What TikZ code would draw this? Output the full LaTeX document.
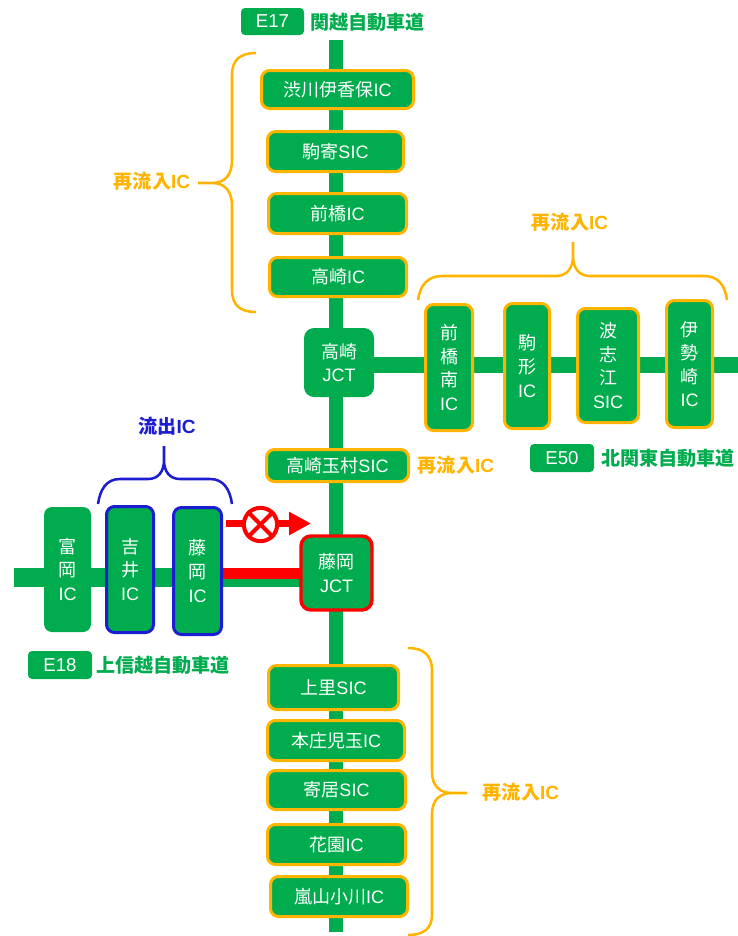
\documentclass[tikz,border=0pt]{standalone}
\usepackage{fontspec}
\setmainfont{Noto Sans CJK JP}
\setsansfont{Liberation Sans}
\usetikzlibrary{arrows.meta, backgrounds}
\definecolor{roadgreen}{HTML}{00AC4E}
\definecolor{reflow}{HTML}{FFB400}
\definecolor{outflow}{HTML}{1C1CD2}
\newcommand{\lat}[1]{{\sffamily #1}}
\tikzset{
    box/.style 2 args={fill=roadgreen, text=white, rounded corners=6pt, inner sep=0pt, align=center,
        font=\fontsize{13.5}{17.7}\selectfont, minimum width=#1*0.75pt, minimum height=#2*0.75pt},
    reic/.style={draw=reflow, line width=2.25pt},
    outic/.style={draw=outflow, line width=2.25pt},
    badge/.style 2 args={fill=roadgreen, text=white, rounded corners=3pt, inner sep=0pt,
        font=\fontsize{14}{16}\selectfont\sffamily, minimum width=#1*0.75pt, minimum height=#2*0.75pt},
    roadname/.style={text=roadgreen, font=\fontsize{14.3}{16}\selectfont\bfseries, inner sep=0pt},
    relabel/.style={text=reflow, font=\fontsize{14.3}{16}\selectfont\bfseries, inner sep=0pt},
    road/.style={draw=roadgreen, line width=10.5pt},
    brace/.style={draw=#1, line width=1.9pt}
}
\begin{document}
\begin{tikzpicture}[x=0.75pt, y=-0.75pt]
    \useasboundingbox (0, 0) rectangle (738, 936);
    \coordinate (e17top) at (336, 40);
    \coordinate (e17end) at (336, 932);
    \coordinate (e50end) at (738, 365);
    \coordinate (e18end) at (14, 577.5);
    \coordinate (redbar) at (223, 573.5);
    \coordinate (banstart) at (226, 523.5);
    \coordinate (banend) at (311, 523.5);

    \node[badge={63}{27}] (e17) at (272.5, 21.5) {E17};
    \node[roadname] (e17name) at (367.5, 22) {関越自動車道};
    \node[box={152}{38}, reic] (shibukawa) at (337.5, 89.5) {渋川伊香保\lat{IC}};
    \node[box={136}{40}, reic] (komayose) at (335.5, 151.5) {駒寄\lat{SIC}};
    \node[box={138}{40}, reic] (maebashi) at (337.5, 213.5) {前橋\lat{IC}};
    \node[box={137}{39}, reic] (takasaki) at (338, 277) {高崎\lat{IC}};
    \node[box={70}{69}, rounded corners=7.5pt] (takasakijct) at (339, 362.5) {高崎\\\lat{JCT}};
    \node[box={142}{32}, reic] (tamamura) at (337.5, 465.5) {高崎玉村\lat{SIC}};
    \node[box={71}{74}, draw=red, line width=2.6pt, rounded corners=7.5pt] (fujiokajct) at (336.5, 573) {藤岡\\\lat{JCT}};
    \node[box={130}{44}, reic] (kamisato) at (333.5, 687.5) {上里\lat{SIC}};
    \node[box={137}{40}, reic] (honjo) at (336, 740.5) {本庄児玉\lat{IC}};
    \node[box={138}{39}, reic] (yorii) at (336.5, 790) {寄居\lat{SIC}};
    \node[box={138}{40}, reic] (hanazono) at (336.5, 844.5) {花園\lat{IC}};
    \node[box={137}{40}, reic] (ranzan) at (339, 896.5) {嵐山小川\lat{IC}};

    \node[box={47}{126}, reic] (maebashiminami) at (449, 367.5) {前\\橋\\南\\\lat{IC}};
    \node[box={45}{125}, reic] (komagata) at (527, 366) {駒\\形\\\lat{IC}};
    \node[box={61}{114}, reic] (hashie) at (608, 365.5) {波\\志\\江\\\lat{SIC}};
    \node[box={46}{127}, reic] (isesaki) at (689.5, 364) {伊\\勢\\崎\\\lat{IC}};
    \node[badge={64}{28}] (e50) at (562, 458) {E50};
    \node[roadname] (e50name) at (668, 458) {北関東自動車道};

    \node[box={47}{125}] (tomioka) at (67.5, 569.5) {富\\岡\\\lat{IC}};
    \node[box={47}{126}, outic] (yoshii) at (130, 569.5) {吉\\井\\\lat{IC}};
    \node[box={48}{127}, outic] (fujioka) at (197.5, 571) {藤\\岡\\\lat{IC}};
    \node[badge={64}{28}] (e18) at (60, 665) {E18};
    \node[roadname] (e18name) at (163, 665) {上信越自動車道};

    \node[relabel] (leftlabel) at (152, 181) {再流入\lat{IC}};
    \node[relabel] (toplabel) at (570, 222) {再流入\lat{IC}};
    \node[relabel] (midlabel) at (456, 465.5) {再流入\lat{IC}};
    \node[relabel] (lowlabel) at (521, 792) {再流入\lat{IC}};
    \node[relabel, text=outflow] (outlabel) at (167, 426) {流出\lat{IC}};

    \begin{pgfonlayer}{background}
        \draw[road] (e17top) -- (e17end);
        \draw[road, line width=12pt] (takasakijct |- e50end) -- (e50end);
        \draw[road, line width=14pt] (e18end) -- (fujiokajct |- e18end);
        \draw[draw=red, line width=8.2pt] (redbar) -- (fujiokajct |- redbar);
    \end{pgfonlayer}

    \draw[-{Triangle[length=16.5pt, width=16.5pt]}, draw=red, fill=red, line width=5.5pt] (banstart) -- (banend);
    \node[circle, draw=red, fill=white, line width=3pt, minimum size=25pt, inner sep=0pt] (ban) at (260.5, 524.5) {};
    \draw[draw=red, line width=3pt] (ban.45) -- (ban.225);
    \draw[draw=red, line width=3pt] (ban.135) -- (ban.315);

    \draw[brace=reflow] (256, 53) .. controls (240, 53) and (232, 60) .. (232, 75) -- (232, 160)
        .. controls (232, 175) and (225, 183) .. (212, 183) -- (198, 183) -- (212, 183)
        .. controls (225, 183) and (232, 191) .. (232, 206) -- (232, 290)
        .. controls (232, 305) and (240, 312) .. (256, 312);
    \draw[brace=reflow] (418, 300) .. controls (420, 285) and (428, 276) .. (442, 276) -- (556, 276)
        .. controls (567, 276) and (573, 268) .. (573, 256) -- (573, 242) -- (573, 256)
        .. controls (573, 268) and (579, 276) .. (590, 276) -- (704, 276)
        .. controls (718, 276) and (725, 285) .. (727, 300);
    \draw[brace=outflow] (98, 504) .. controls (100, 490) and (106, 479) .. (120, 479) -- (148, 479)
        .. controls (158, 479) and (164, 472) .. (164, 460) -- (164, 446) -- (164, 460)
        .. controls (164, 472) and (170, 479) .. (180, 479) -- (210, 479)
        .. controls (224, 479) and (230, 490) .. (232, 504);
    \draw[brace=reflow] (408, 648) .. controls (424, 648) and (432, 656) .. (432, 670) -- (432, 772)
        .. controls (432, 786) and (440, 793) .. (452, 793) -- (467, 793) -- (452, 793)
        .. controls (440, 793) and (432, 800) .. (432, 814) -- (432, 915)
        .. controls (432, 928) and (424, 935) .. (408, 935);
\end{tikzpicture}
\end{document}
